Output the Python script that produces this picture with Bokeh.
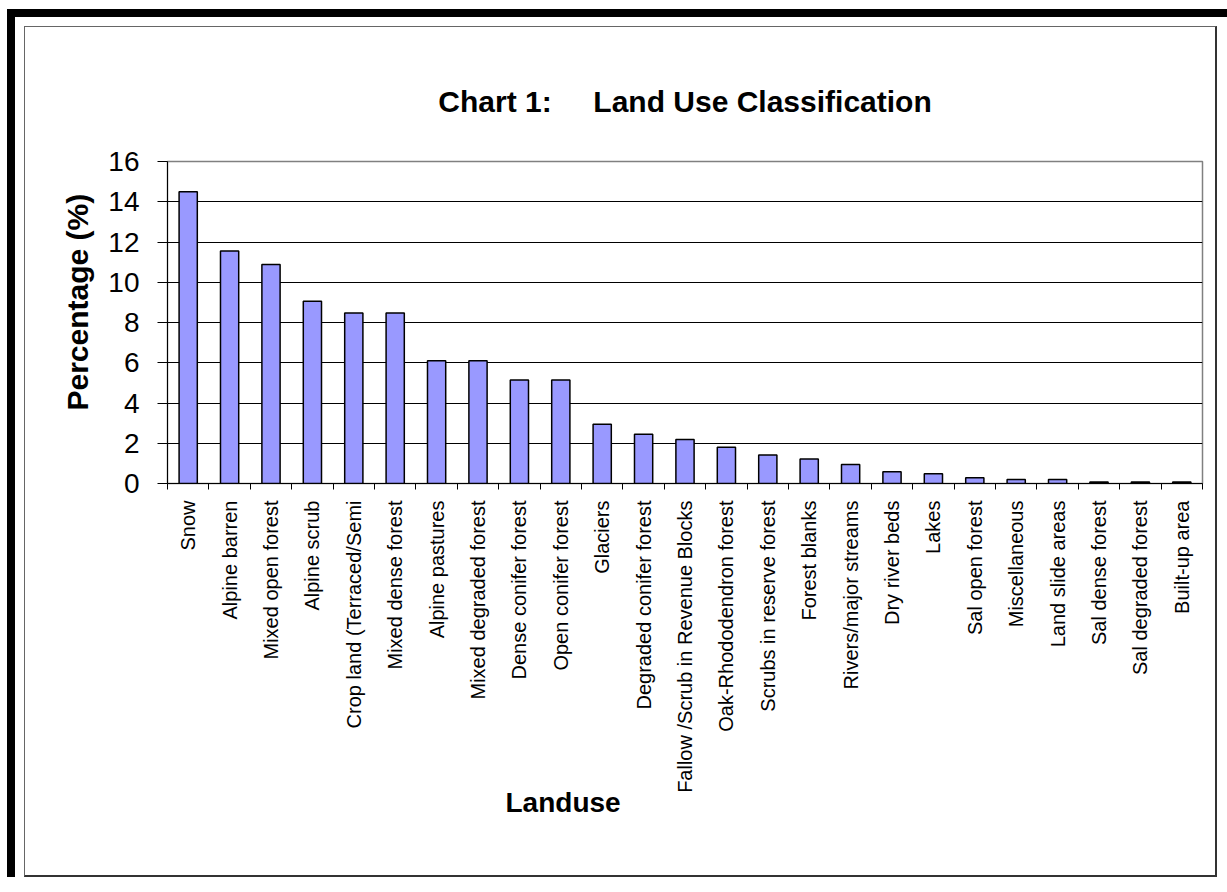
import numpy as np
from bokeh.plotting import figure
from bokeh.layouts import column
from bokeh.models import Range1d, FixedTicker, Title
from bokeh.embed import file_html
from bokeh.resources import INLINE

# ---- data ----
categories = [
    "Snow", "Alpine barren", "Mixed open forest", "Alpine scrub",
    "Crop land (Terraced/Semi", "Mixed dense forest", "Alpine pastures",
    "Mixed degraded forest", "Dense conifer forest", "Open conifer forest",
    "Glaciers", "Degraded conifer forest", "Fallow /Scrub in Revenue Blocks",
    "Oak-Rhododendron forest", "Scrubs in reserve forest", "Forest blanks",
    "Rivers/major streams", "Dry river beds", "Lakes", "Sal open forest",
    "Miscellaneous", "Land slide areas", "Sal dense forest",
    "Sal degraded forest", "Built-up area",
]
percentages = [
    14.5, 11.55, 10.88, 9.05, 8.47, 8.47, 6.1, 6.1, 5.14, 5.14,
    2.94, 2.45, 2.19, 1.8, 1.42, 1.22, 0.95, 0.58, 0.48,
    0.28, 0.2, 0.2, 0.08, 0.08, 0.08,
]
y_ticks = [0, 2, 4, 6, 8, 10, 12, 14, 16]

FONT = "Liberation Sans"
# canvas of the chart (inside the grey chart-area border)
CW, CH = 1193, 851
OX, OY = 25, 27                     # canvas origin on the page
FL, FR, FT, FB = 167 - OX, 1202 - OX, 161 - OY, 483 - OY

n = len(categories)
centers = [i + 0.5 for i in range(n)]

p = figure(width=CW, height=CH, output_backend="svg", toolbar_location=None,
           x_range=Range1d(0, n), y_range=Range1d(0, 16),
           min_border_left=FL, min_border_right=CW - FR,
           min_border_top=FT, min_border_bottom=CH - FB,
           background_fill_color="white", border_fill_color="white",
           margin=(9, 0, 0, 9),
           styles={"border-left": "1px solid #666666", "border-top": "1px solid #666666",
                   "border-right": "2px solid #333333", "border-bottom": "2px solid #333333"})
p.outline_line_color = "#808080"
p.outline_line_width = 1.5

p.vbar(x=centers, top=percentages, bottom=0, width=0.44,
       fill_color="#9999FF", line_color="black", line_width=1.5)

# title
p.title = Title(text="Chart 1:\u00a0\u00a0\u00a0\u00a0\u00a0Land Use Classification",
                align="center", text_font=FONT, text_font_style="bold",
                text_font_size="30px", text_color="black", standoff=88)

# y axis
ya = p.yaxis[0]
ya.ticker = FixedTicker(ticks=y_ticks)
ya.axis_line_color = "black"
ya.major_tick_out = 10
ya.major_tick_in = 0
ya.minor_tick_line_color = None
ya.major_label_text_font = FONT
ya.major_label_text_font_size = "28px"
ya.major_label_text_color = "black"
ya.major_label_standoff = 18

# y axis title (starts a little above the frame bottom, as in the original)
p.add_layout(Title(text="Percentage (%)", align="left", offset=73, standoff=24,
                   text_font=FONT, text_font_style="bold", text_font_size="30px",
                   text_color="black"), "left")

# x axis: labels at centres, ticks at category boundaries
xa = p.xaxis[0]
xa.ticker = FixedTicker(ticks=centers, minor_ticks=list(range(n + 1)))
xa.major_label_overrides = {c: lab for c, lab in zip(centers, categories)}
xa.major_label_orientation = np.pi / 2
xa.major_tick_line_color = None
xa.major_tick_out = 0
xa.major_tick_in = 0
xa.minor_tick_line_color = "black"
xa.minor_tick_out = 6
xa.minor_tick_in = 0
xa.axis_line_color = "black"
xa.major_label_text_font = FONT
xa.major_label_text_font_size = "20px"
xa.major_label_text_color = "black"
xa.major_label_standoff = 11

# x axis title, placed left of centre as in the original
p.add_layout(Title(text="Landuse", align="left", offset=338, standoff=-22,
                   text_font=FONT, text_font_style="bold", text_font_size="28px",
                   text_color="black"), "below")

p.xgrid.grid_line_color = None
p.ygrid.grid_line_color = "black"
p.ygrid.grid_line_width = 1

root = column(p, width=1220, margin=(9, 0, 0, 7),
              styles={"border-left": "8px solid black", "border-top": "8px solid black",
                      "background-color": "white"})

open("out.html", "w").write(file_html(root, INLINE))
